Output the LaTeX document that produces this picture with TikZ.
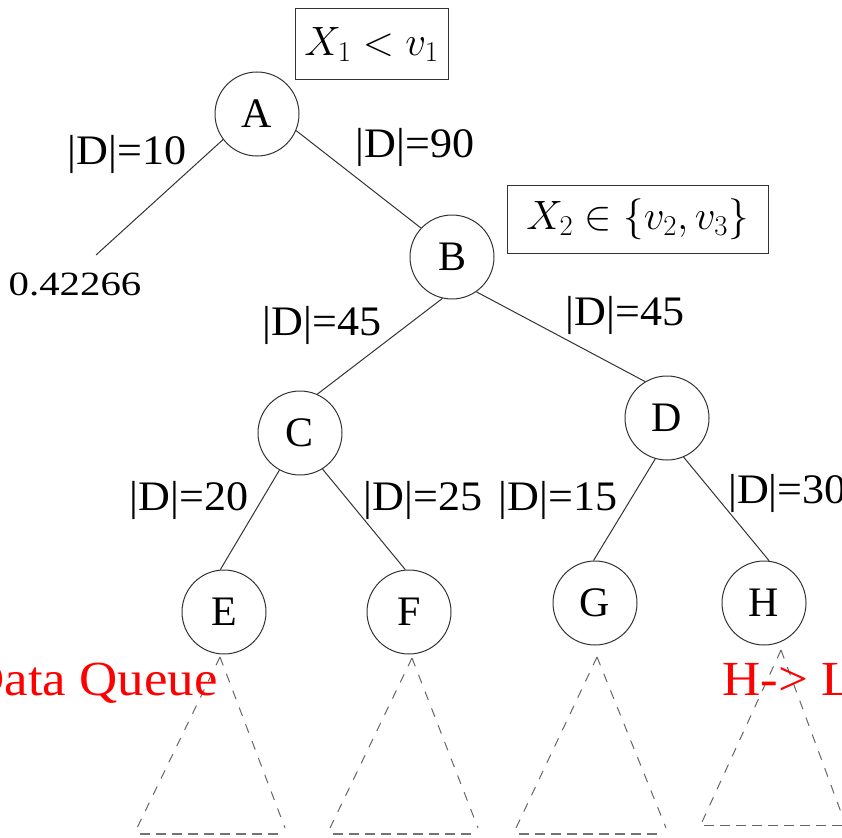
\RequirePackage{fix-cm}
\documentclass[tikz,border=0pt]{standalone}
\usepackage[no-math]{fontspec}
\setmainfont{Liberation Serif}
\begin{document}
\begin{tikzpicture}[x=1pt,y=-1pt,
  tnode/.style={draw=black!80,circle,minimum size=84pt,inner sep=0pt,line width=1pt,font=\fontsize{42}{50}\selectfont},
  edge/.style={draw=black!80,line width=1pt},
  elab/.style={inner sep=0pt,xscale=1.05,font=\fontsize{42}{50}\selectfont},
  cond/.style={draw=black!80,line width=1pt,inner sep=0pt,font=\fontsize{41}{49}\selectfont},
  tri/.style={draw=black!60,line width=1pt,dash pattern=on 9pt off 9pt},
  base/.style={draw=black!55,line width=2pt,dash pattern=on 10pt off 6pt},
  redtxt/.style={text=red,inner sep=0pt,xscale=1.08,font=\fontsize{49}{57}\selectfont}]
\useasboundingbox (0,0) rectangle (842,837);
% condition boxes
\node[cond,minimum width=153pt,minimum height=71pt] (c1) at (371.5,44.5) {$X_1 < v_1$};
\node[cond,minimum width=261pt,minimum height=68pt] (c2) at (637.5,219) {$X_2 \in \{v_2, v_3\}$};
% tree nodes
\node[tnode] (A) at (257,114) {A};
\node[tnode] (B) at (452,257) {B};
\node[tnode] (C) at (300,433) {C};
\node[tnode] (D) at (667,418) {D};
\node[tnode] (E) at (224,612) {E};
\node[tnode] (F) at (409,612) {F};
\node[tnode] (G) at (595,603) {G};
\node[tnode] (H) at (764,603) {H};
\coordinate (L) at (96,255);
\node[inner sep=0pt,font=\fontsize{34}{40}\selectfont,xscale=1.2] (leaf) at (75,284) {0.42266};
% edges
\draw[edge] (A.-143) -- (L);
\draw[edge] (A.-23) -- (B.137);
\draw[edge] (B.-103) -- (C.66);
\draw[edge] (B.-55) -- (D.121);
\draw[edge] (C.-119) -- (E.95);
\draw[edge] (C.-58) -- (F.95);
\draw[edge] (D.-106) -- (G.92);
\draw[edge] (D.-67) -- (H.83);
% edge labels
\node[elab] (l1) at (127,154) {|D|=10};
\node[elab] (l2) at (415,147) {|D|=90};
\node[elab] (l3) at (322,325) {|D|=45};
\node[elab] (l4) at (625,315) {|D|=45};
\node[elab] (l5) at (189,500) {|D|=20};
\node[elab] (l6) at (423,500) {|D|=25};
\node[elab] (l7) at (558,500) {|D|=15};
\node[elab,anchor=west] (l8) at (728,493) {|D|=30};
% subtrees
\draw[tri] (220,657) -- (137,828);
\draw[tri] (220,657) -- (285,828);
\draw[base] (140,834) -- (282,834);
\draw[tri] (412,658) -- (330,828);
\draw[tri] (412,658) -- (478,828);
\draw[base] (333,834) -- (475,834);
\draw[tri] (597,657) -- (516,828);
\draw[tri] (597,657) -- (666,828);
\draw[base] (519,834) -- (663,834);
\draw[tri] (781,650) -- (702,822);
\draw[tri] (781,650) -- (842,815);
\draw[tri,dash pattern=on 10pt off 6pt] (704,825) -- (842,825);
% red annotations
\node[redtxt,anchor=base east] (q) at (218,695) {Data Queue};
\node[redtxt,anchor=base west] (hl) at (722,695) {H-> L};
\end{tikzpicture}
\end{document}
